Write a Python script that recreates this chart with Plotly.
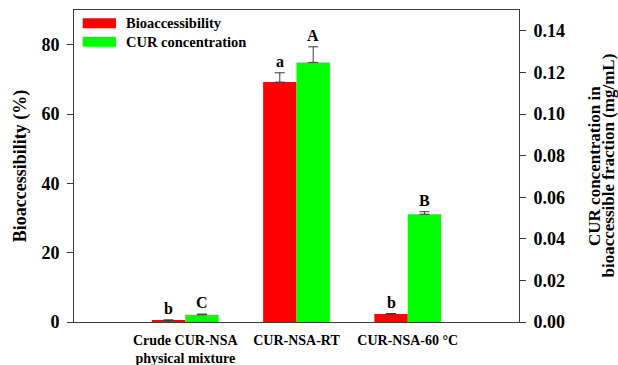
import plotly.graph_objects as go

categories = ["Crude CUR-NSA<br>physical mixture", "CUR-NSA-RT", "CUR-NSA-60 °C"]
bioaccessibility = [0.5, 69.2, 2.3]
bioaccessibility_err = [0.1, 2.7, 0.15]
cur_conc = [0.0035, 0.1248, 0.0518]
cur_conc_err = [0.0003, 0.0075, 0.0012]
bio_letters = ["b", "a", "b"]
cur_letters = ["C", "A", "B"]
right_title_lines = ["CUR concentration in", "bioaccessible fraction (mg/mL)"]

FONT = "Liberation Serif"
RED = "#FF0000"
GREEN = "#00FF00"
AX = "#3a3a3a"

fig = go.Figure()
fig.add_trace(go.Bar(
    x=categories, y=bioaccessibility, name="Bioaccessibility",
    marker=dict(color=RED, line=dict(width=0)), width=0.3, offset=-0.3,
    error_y=dict(type="data", array=bioaccessibility_err, arrayminus=[0]*3,
                 symmetric=False, color=AX, thickness=1, width=5),
    yaxis="y", showlegend=False,
))
fig.add_trace(go.Bar(
    x=categories, y=cur_conc, name="CUR concentration",
    marker=dict(color=GREEN, line=dict(width=0)), width=0.3, offset=0,
    error_y=dict(type="data", array=cur_conc_err, arrayminus=[0]*3,
                 symmetric=False, color=AX, thickness=1, width=5),
    yaxis="y2", showlegend=False,
))

annotations = []
for i, cat in enumerate(categories):
    annotations.append(dict(x=i - 0.15, y=bioaccessibility[i] + bioaccessibility_err[i],
                            xref="x", yref="y", text=bio_letters[i], showarrow=False,
                            yanchor="bottom", yshift=1,
                            font=dict(family=FONT, size=16, color="black", weight="bold")))
    annotations.append(dict(x=i + 0.15, y=cur_conc[i] + cur_conc_err[i],
                            xref="x", yref="y2", text=cur_letters[i], showarrow=False,
                            yanchor="bottom", yshift=1,
                            font=dict(family=FONT, size=16, color="black", weight="bold")))

pw, ph = 445.0, 312.0

# right axis title, two tightly spaced lines
for k, line in enumerate(right_title_lines):
    cx = 594 + k * 13.5
    annotations.append(dict(x=(cx - 74) / pw, y=0.5, xref="paper", yref="paper",
                            text=line, textangle=-90, showarrow=False, borderpad=0,
                            xanchor="center", yanchor="middle",
                            font=dict(family=FONT, size=17, color="black", weight="bold")))

# manual legend (wide swatches as in the original)
legend_items = [("Bioaccessibility", RED), ("CUR concentration", GREEN)]
shapes = []
for k, (label, col) in enumerate(legend_items):
    top = 18.3 + k * 18.4
    y1 = 1 - (top - 10) / ph
    y0 = 1 - (top + 10 - 10) / ph
    shapes.append(dict(type="rect", xref="paper", yref="paper",
                       x0=(82.7 - 74) / pw, x1=(116 - 74) / pw, y0=y0, y1=y1,
                       fillcolor=col, line=dict(width=0)))
    annotations.append(dict(x=(124 - 74) / pw, y=(y0 + y1) / 2, xref="paper", yref="paper",
                            text=label, showarrow=False, xanchor="left", yanchor="middle",
                            font=dict(family=FONT, size=14.5, color="black", weight="bold")))

fig.update_layout(
    width=618, height=365,
    margin=dict(l=74, r=99, t=10, b=43),
    paper_bgcolor="white", plot_bgcolor="white",
    barmode="overlay",
    font=dict(family=FONT, color="black"),
    shapes=shapes, annotations=annotations,
    xaxis=dict(range=[-1, 3], showline=True, linecolor=AX, linewidth=1, mirror=True,
               ticks="", showgrid=False, zeroline=False, ticklabelstandoff=5,
               automargin=False,
               tickfont=dict(family=FONT, size=14, color="black", weight="bold")),
    yaxis=dict(range=[0, 90], dtick=20, tick0=0, showline=True, linecolor=AX, linewidth=1,
               ticks="outside", ticklen=6, tickcolor=AX, showgrid=False, zeroline=False,
               ticklabelstandoff=4, automargin=False,
               tickfont=dict(family=FONT, size=18, color="black", weight="bold"),
               title=dict(text="Bioaccessibility (%)", standoff=10,
                          font=dict(family=FONT, size=18, color="black", weight="bold"))),
    yaxis2=dict(range=[0, 0.15], dtick=0.02, tick0=0, tickformat=".2f", overlaying="y",
                side="right", showline=True, linecolor=AX, linewidth=1,
                ticks="outside", ticklen=6, tickcolor=AX, showgrid=False, zeroline=False,
                ticklabelstandoff=4, automargin=False,
                tickfont=dict(family=FONT, size=18, color="black", weight="bold")),
)

fig.write_html("out.html")
